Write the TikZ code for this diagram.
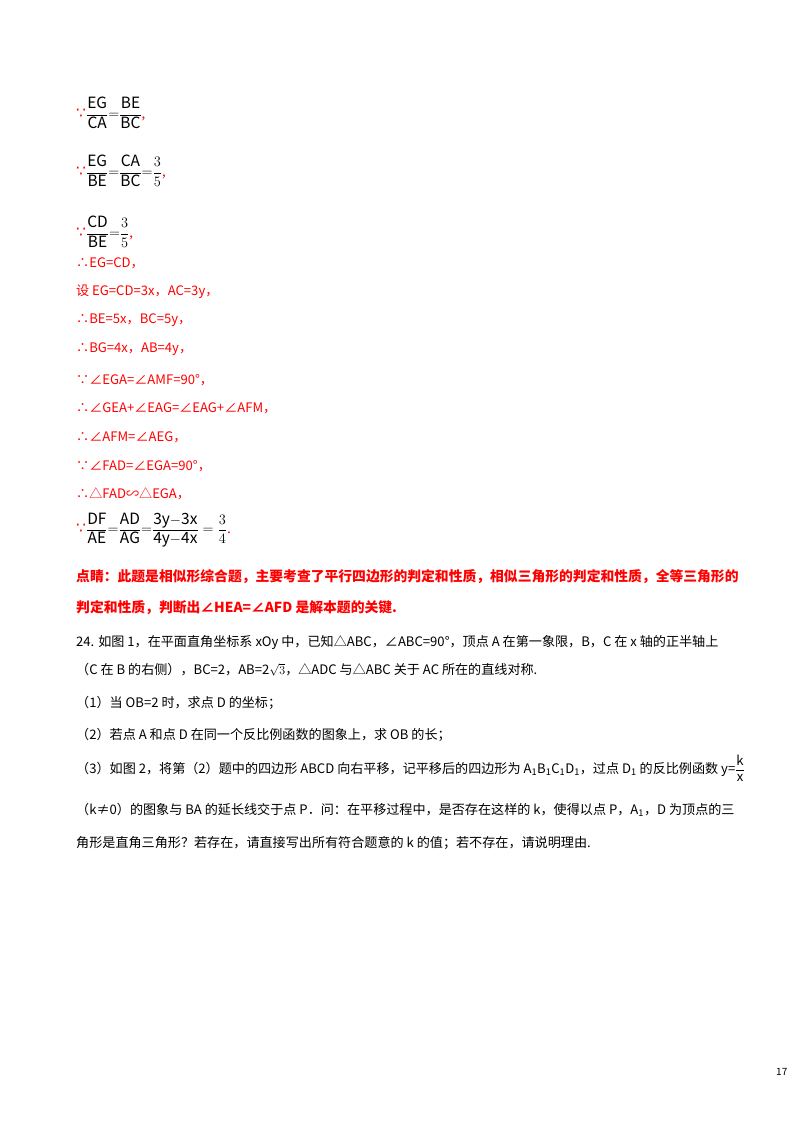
\documentclass[tikz,border=0pt]{standalone}
\usepackage{amsmath}
\usepackage{fontspec}
\setmainfont{Noto Sans CJK SC}
\newfontfamily\serf{Liberation Serif}
\newfontfamily\dejav{DejaVu Sans}
\newcommand{\bec}{\textcolor{red}{\dejav ∵}}
\begin{document}
\begin{tikzpicture}[x=1pt,y=-1pt,
  ln/.style={anchor=west,inner sep=0pt,font=\fontsize{13.1}{15}\selectfont},
  rd/.style={ln,text=red},
  fr/.style={anchor=west,inner sep=0pt,font=\fontsize{15.5}{18}\selectfont\serf}]
\useasboundingbox[fill=white] (0,0) rectangle (800,1132);
\node[fr] (f1) at (76,113) {\bec$\dfrac{\mathrm{EG}}{\mathrm{CA}}{=}\dfrac{\mathrm{BE}}{\mathrm{BC}}$\textcolor{red}{,}};
\node[fr] (f2) at (76,171) {\bec$\dfrac{\mathrm{EG}}{\mathrm{BE}}{=}\dfrac{\mathrm{CA}}{\mathrm{BC}}{=}\dfrac{3}{5}$\textcolor{red}{,}};
\node[fr] (f3) at (76,232) {\bec$\dfrac{\mathrm{CD}}{\mathrm{BE}}{=}\dfrac{3}{5}$\textcolor{red}{,}};
\node[rd] (l1) at (76,263) {∴EG=CD，};
\node[rd] (l2) at (76,292) {设 EG=CD=3x，AC=3y，};
\node[rd] (l3) at (76,320) {∴BE=5x，BC=5y，};
\node[rd] (l4) at (76,349) {∴BG=4x，AB=4y，};
\node[rd] (l5) at (76,380) {∵∠EGA=∠AMF=90°，};
\node[rd] (l6) at (76,408) {∴∠GEA+∠EAG=∠EAG+∠AFM，};
\node[rd] (l7) at (76,437) {∴∠AFM=∠AEG，};
\node[rd] (l8) at (76,466) {∵∠FAD=∠EGA=90°，};
\node[rd] (l9) at (76,494) {∴△FAD∽△EGA，};
\node[fr] (f4) at (76,530) {\bec$\dfrac{\mathrm{DF}}{\mathrm{AE}}{=}\dfrac{\mathrm{AD}}{\mathrm{AG}}{=}\dfrac{\mathrm{3y{-}3x}}{\mathrm{4y{-}4x}}=\dfrac{3}{4}$\textcolor{red}{.}};
\node[rd,font=\fontsize{13.8}{15}\selectfont\bfseries] (p1) at (76,577) {点睛：此题是相似形综合题，主要考查了平行四边形的判定和性质，相似三角形的判定和性质，全等三角形的};
\node[rd,font=\fontsize{13.8}{15}\selectfont\bfseries] (p2) at (76,608) {判定和性质，判断出∠HEA=∠AFD 是解本题的关键.};
\node[ln] (q1) at (76,642) {24. 如图 1，在平面直角坐标系 xOy 中，已知△ABC，∠ABC=90°，顶点 A 在第一象限，B，C 在 x 轴的正半轴上};
\node[ln] (q2) at (76,670) {（C 在 B 的右侧），BC=2，AB=2$\sqrt{3}$，△ADC 与△ABC 关于 AC 所在的直线对称.};
\node[ln] (q3) at (76,703) {（1）当 OB=2 时，求点 D 的坐标；};
\node[ln] (q4) at (76,735) {（2）若点 A 和点 D 在同一个反比例函数的图象上，求 OB 的长；};
\node[ln] (q5) at (76,768) {（3）如图 2，将第（2）题中的四边形 ABCD 向右平移，记平移后的四边形为 A\textsubscript{1}B\textsubscript{1}C\textsubscript{1}D\textsubscript{1}，过点 D\textsubscript{1} 的反比例函数 y=$\dfrac{\mathrm{k}}{\mathrm{x}}$};
\node[ln] (q6) at (76,810) {（k≠0）的图象与 BA 的延长线交于点 P．问：在平移过程中，是否存在这样的 k，使得以点 P，A\textsubscript{1}，D 为顶点的三};
\node[ln] (q7) at (76,843) {角形是直角三角形？若存在，请直接写出所有符合题意的 k 的值；若不存在，请说明理由.};
\node[ln,font=\fontsize{10}{12}\selectfont] (pg) at (776,1072) {17};
\end{tikzpicture}
\end{document}
